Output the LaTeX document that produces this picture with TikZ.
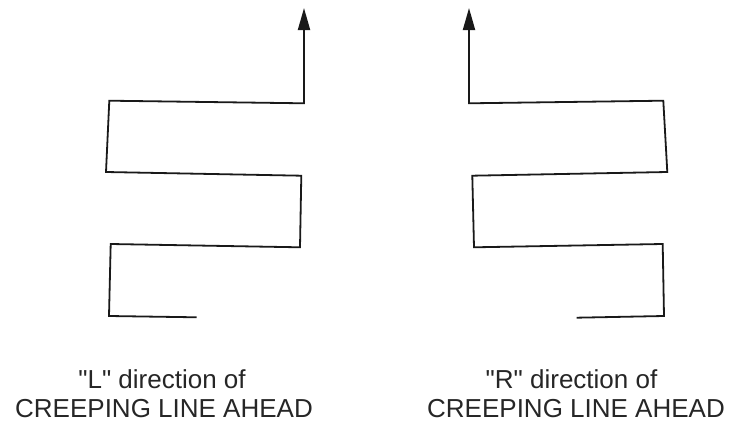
\documentclass[tikz,border=0pt]{standalone}
\usepackage{fontspec}
\setmainfont{Liberation Sans}
\usetikzlibrary{arrows.meta}
\begin{document}
\begin{tikzpicture}[x=1pt,y=-1pt,
  track/.style={line width=1.8pt,draw=black!90,line join=miter,
    -{Triangle[length=22pt,width=12pt]}},
  lbl/.style={anchor=base,inner sep=0pt,font=\fontsize{26}{29}\selectfont,text=black!85}]
\useasboundingbox (0,0) rectangle (729,423);
% left pattern
\draw[track] (196.7,317.3) -- (109,316) -- (110.7,244) -- (300,247.3) -- (301.3,175.7)
  -- (106,172) -- (109.3,100.7) -- (304,103.3) -- (304,8);
% right pattern
\draw[track] (576.7,317.7) -- (664,316) -- (662.7,244) -- (474,247.3) -- (472.3,175.7)
  -- (667.3,172) -- (663.3,100.7) -- (469,103.3) -- (469,8);
% labels
\node[lbl] (l1) at (162,388) {\textquotedbl L\textquotedbl{} direction of};
\node[lbl] (l2) at (164,417) {CREEPING LINE AHEAD};
\node[lbl] (r1) at (571.5,388) {\textquotedbl R\textquotedbl{} direction of};
\node[lbl] (r2) at (576,417) {CREEPING LINE AHEAD};
\end{tikzpicture}
\end{document}
